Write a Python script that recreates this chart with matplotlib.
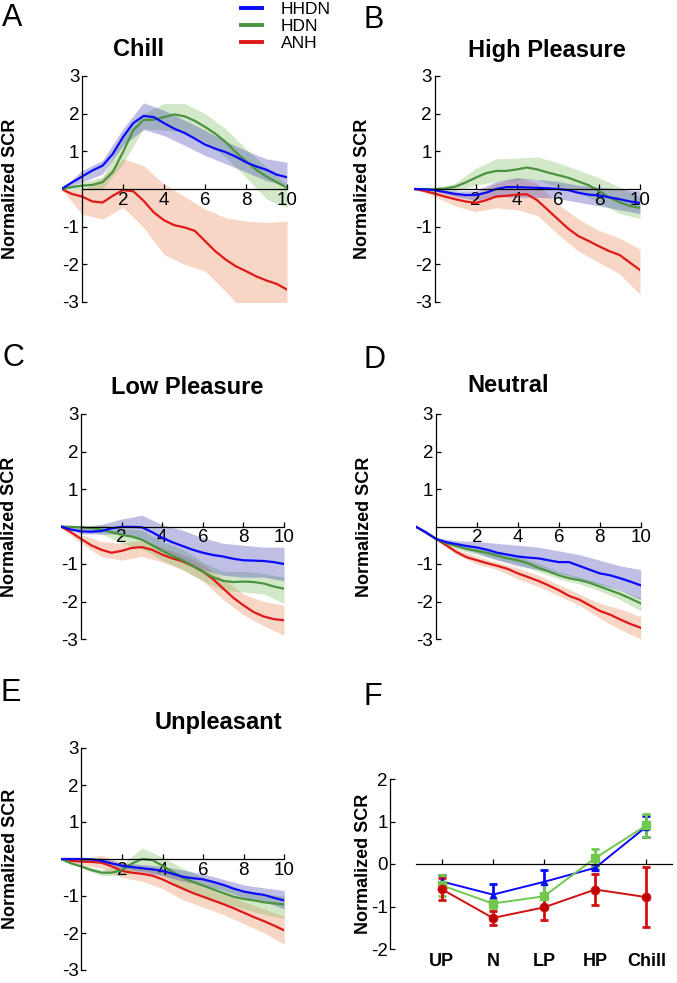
import matplotlib
matplotlib.use('Agg')
import matplotlib.pyplot as plt
import numpy as np

plt.rcParams['font.family'] = ['Liberation Sans', 'DejaVu Sans']
plt.rcParams['axes.unicode_minus'] = False

# time axis (s) for the mean traces and for the shaded error bands
time = [-1, -0.5, 0, 0.5, 1, 1.5, 2, 2.5, 3, 3.5, 4, 4.5, 5, 5.5, 6, 6.5, 7, 7.5, 8, 8.5, 9, 9.5, 10]
band_time = [-1, 0, 1, 2, 3, 4, 5, 6, 7, 8, 9, 10]

groups = ['HHDN', 'HDN', 'ANH']
line_colors = {'HHDN': '#0a0aff', 'HDN': '#4a9440', 'ANH': '#e01818'}
fill_colors = {'HHDN': '#3a3ab0', 'HDN': '#78b858', 'ANH': '#e8804e'}

# ---- A: Chill
chill_hhdn = [0, 0.17, 0.33, 0.49, 0.62, 0.93, 1.38, 1.75, 1.94, 1.91, 1.75, 1.6, 1.49, 1.34, 1.18, 1.07, 0.98, 0.86, 0.71, 0.6, 0.51, 0.38, 0.31]
chill_hdn = [0, 0.05, 0.09, 0.11, 0.18, 0.45, 0.98, 1.56, 1.83, 1.84, 1.91, 1.98, 1.93, 1.81, 1.65, 1.47, 1.25, 0.98, 0.74, 0.51, 0.33, 0.18, 0.03]
chill_anh = [0, -0.13, -0.2, -0.33, -0.36, -0.18, -0.03, -0.06, -0.31, -0.62, -0.83, -0.96, -1.02, -1.11, -1.38, -1.65, -1.87, -2.05, -2.18, -2.32, -2.43, -2.52, -2.67]
chill_hhdn_hi = [0, 0.49, 0.76, 1.6, 2.29, 2.09, 1.83, 1.56, 1.27, 1.02, 0.8, 0.71]
chill_hhdn_lo = [0, 0.18, 0.4, 1.16, 1.58, 1.42, 1.16, 0.89, 0.67, 0.45, 0.22, 0.09]
chill_hdn_hi = [0, 0.18, 0.31, 1.38, 2.0, 2.27, 2.27, 2.0, 1.6, 1.07, 0.58, 0.13]
chill_hdn_lo = [0, -0.04, 0.0, 0.67, 1.6, 1.56, 1.51, 1.25, 0.85, 0.31, -0.27, -0.49]
chill_anh_hi = [0, -0.04, 0.31, 0.8, 0.62, 0.13, -0.2, -0.53, -0.76, -0.85, -0.89, -0.85]
chill_anh_lo = [0, -0.67, -0.8, -0.49, -1.02, -1.74, -2.0, -2.18, -2.72, -3.3, -3.5, -3.5]

# ---- B: High Pleasure
hp_hhdn = [0, -0.01, -0.03, -0.08, -0.13, -0.16, -0.16, -0.1, 0.0, 0.05, 0.05, 0.04, 0.03, 0.02, 0.0, -0.03, -0.1, -0.15, -0.17, -0.22, -0.27, -0.33, -0.37]
hp_hdn = [0, 0, 0, 0.01, 0.06, 0.17, 0.3, 0.42, 0.48, 0.48, 0.52, 0.57, 0.52, 0.44, 0.37, 0.3, 0.2, 0.1, -0.05, -0.22, -0.35, -0.45, -0.5]
hp_anh = [0, -0.05, -0.12, -0.2, -0.27, -0.33, -0.37, -0.3, -0.2, -0.18, -0.15, -0.14, -0.3, -0.55, -0.8, -1.05, -1.25, -1.38, -1.52, -1.65, -1.75, -1.95, -2.15]
hp_hhdn_hi = [0, 0.0, -0.05, -0.05, 0.2, 0.3, 0.25, 0.2, 0.1, 0.05, 0.0, -0.05]
hp_hhdn_lo = [0, -0.06, -0.2, -0.3, -0.2, -0.22, -0.22, -0.25, -0.35, -0.45, -0.55, -0.65]
hp_hdn_hi = [0, 0.03, 0.15, 0.55, 0.8, 0.82, 0.85, 0.7, 0.5, 0.3, 0.05, -0.2]
hp_hdn_lo = [0, -0.03, -0.05, 0.1, 0.2, 0.25, 0.25, 0.05, -0.1, -0.35, -0.65, -0.78]
hp_anh_hi = [0, -0.02, -0.1, -0.15, 0.15, 0.3, 0.15, -0.4, -0.8, -1.1, -1.3, -1.6]
hp_anh_lo = [0, -0.2, -0.45, -0.6, -0.5, -0.55, -0.7, -1.2, -1.65, -1.95, -2.25, -2.8]

# ---- C: Low Pleasure
lp_hhdn = [0, -0.08, -0.13, -0.14, -0.12, -0.05, -0.01, -0.01, -0.02, -0.15, -0.3, -0.42, -0.52, -0.62, -0.7, -0.76, -0.8, -0.86, -0.9, -0.91, -0.92, -0.95, -1.0]
lp_hdn = [0, -0.01, -0.02, -0.04, -0.08, -0.15, -0.22, -0.27, -0.35, -0.5, -0.65, -0.78, -0.9, -1.05, -1.2, -1.35, -1.45, -1.48, -1.47, -1.48, -1.52, -1.6, -1.66]
lp_anh = [0, -0.15, -0.33, -0.5, -0.62, -0.7, -0.65, -0.57, -0.55, -0.62, -0.75, -0.85, -0.93, -1.05, -1.2, -1.4, -1.65, -1.9, -2.1, -2.28, -2.4, -2.47, -2.5]
lp_hhdn_hi = [0, -0.02, 0.05, 0.2, 0.3, 0.05, -0.1, -0.3, -0.45, -0.5, -0.55, -0.55]
lp_hhdn_lo = [0, -0.2, -0.2, -0.2, -0.35, -0.65, -0.95, -1.15, -1.3, -1.35, -1.35, -1.45]
lp_hdn_hi = [0, 0.03, 0.05, -0.05, -0.1, -0.4, -0.6, -0.95, -1.2, -1.2, -1.25, -1.35]
lp_hdn_lo = [0, -0.08, -0.2, -0.45, -0.6, -0.9, -1.15, -1.45, -1.7, -1.75, -1.8, -2.05]
lp_anh_hi = [0, -0.22, -0.4, -0.45, -0.35, -0.55, -0.75, -1.0, -1.4, -1.8, -2.0, -2.1]
lp_anh_lo = [0, -0.45, -0.8, -0.9, -0.8, -0.95, -1.15, -1.45, -1.95, -2.35, -2.65, -2.9]

# ---- D: Neutral
neu_hhdn = [0, -0.15, -0.33, -0.42, -0.47, -0.52, -0.56, -0.62, -0.7, -0.75, -0.8, -0.83, -0.85, -0.9, -0.95, -0.95, -1.05, -1.15, -1.25, -1.3, -1.38, -1.47, -1.57]
neu_hdn = [0, -0.16, -0.33, -0.45, -0.52, -0.6, -0.65, -0.7, -0.78, -0.85, -0.9, -0.98, -1.1, -1.2, -1.3, -1.38, -1.43, -1.5, -1.6, -1.7, -1.8, -1.92, -2.05]
neu_anh = [0, -0.16, -0.33, -0.5, -0.68, -0.82, -0.9, -0.98, -1.05, -1.13, -1.25, -1.35, -1.45, -1.57, -1.7, -1.85, -1.95, -2.1, -2.25, -2.35, -2.48, -2.6, -2.7]
neu_hhdn_hi = [0, -0.3, -0.38, -0.4, -0.45, -0.5, -0.55, -0.65, -0.75, -0.9, -1.05, -1.15]
neu_hhdn_lo = [0, -0.36, -0.55, -0.7, -0.9, -1.05, -1.15, -1.25, -1.4, -1.55, -1.7, -1.95]
neu_hdn_hi = [0, -0.31, -0.45, -0.58, -0.7, -0.8, -0.98, -1.2, -1.35, -1.5, -1.7, -1.9]
neu_hdn_lo = [0, -0.35, -0.6, -0.75, -0.88, -1.0, -1.2, -1.4, -1.53, -1.72, -1.95, -2.25]
neu_anh_hi = [0, -0.31, -0.6, -0.8, -0.95, -1.1, -1.3, -1.55, -1.8, -2.05, -2.2, -2.4]
neu_anh_lo = [0, -0.35, -0.75, -1.0, -1.15, -1.4, -1.6, -1.85, -2.1, -2.45, -2.75, -3.0]

# ---- E: Unpleasant
unp_hhdn = [0, 0, 0, -0.01, -0.05, -0.12, -0.18, -0.22, -0.25, -0.28, -0.32, -0.4, -0.48, -0.52, -0.55, -0.62, -0.7, -0.8, -0.88, -0.93, -0.97, -1.05, -1.12]
unp_hdn = [0, -0.12, -0.2, -0.3, -0.37, -0.37, -0.3, -0.12, 0.0, -0.03, -0.18, -0.35, -0.5, -0.62, -0.72, -0.82, -0.92, -1.02, -1.08, -1.12, -1.17, -1.2, -1.23]
unp_anh = [0, -0.05, -0.07, -0.08, -0.1, -0.2, -0.32, -0.37, -0.4, -0.45, -0.55, -0.68, -0.8, -0.92, -1.02, -1.12, -1.22, -1.33, -1.45, -1.57, -1.68, -1.8, -1.93]
unp_hhdn_hi = [0, 0.05, 0.03, -0.1, -0.15, -0.2, -0.3, -0.4, -0.55, -0.7, -0.78, -0.85]
unp_hhdn_lo = [0, -0.05, -0.1, -0.25, -0.35, -0.45, -0.6, -0.7, -0.85, -1.05, -1.15, -1.35]
unp_hdn_hi = [0, -0.15, -0.3, -0.15, 0.3, 0.05, -0.25, -0.5, -0.7, -0.85, -0.95, -1.0]
unp_hdn_lo = [0, -0.25, -0.45, -0.45, -0.3, -0.45, -0.8, -1.0, -1.2, -1.35, -1.5, -1.6]
unp_anh_hi = [0, 0.0, 0.1, -0.1, -0.2, -0.3, -0.5, -0.75, -0.95, -1.15, -1.35, -1.55]
unp_anh_lo = [0, -0.15, -0.25, -0.5, -0.6, -0.8, -1.1, -1.3, -1.5, -1.75, -2.0, -2.3]

# ---- F: mean response per category
categories = ['UP', 'N', 'LP', 'HP', 'Chill']
mean_hhdn = [-0.41, -0.72, -0.42, -0.09, 0.88]
sem_hhdn = [0.15, 0.24, 0.29, 0.06, 0.25]
mean_hdn = [-0.5, -0.93, -0.76, 0.14, 0.91]
sem_hdn = [0.25, 0.1, 0.3, 0.21, 0.27]
mean_anh = [-0.59, -1.27, -1.02, -0.6, -0.78]
sem_anh = [0.26, 0.16, 0.3, 0.36, 0.7]

panels = [
    ('A', 'Chill', [61.5, 76, 287, 302], (139, 50),
     {'HHDN': (chill_hhdn, chill_hhdn_lo, chill_hhdn_hi),
      'HDN': (chill_hdn, chill_hdn_lo, chill_hdn_hi),
      'ANH': (chill_anh, chill_anh_lo, chill_anh_hi)}),
    ('B', 'High Pleasure', [414, 76, 640, 302], (547, 51),
     {'HHDN': (hp_hhdn, hp_hhdn_lo, hp_hhdn_hi),
      'HDN': (hp_hdn, hp_hdn_lo, hp_hdn_hi),
      'ANH': (hp_anh, hp_anh_lo, hp_anh_hi)}),
    ('C', 'Low Pleasure', [60.7, 414, 284, 639], (187, 387),
     {'HHDN': (lp_hhdn, lp_hhdn_lo, lp_hhdn_hi),
      'HDN': (lp_hdn, lp_hdn_lo, lp_hdn_hi),
      'ANH': (lp_anh, lp_anh_lo, lp_anh_hi)}),
    ('D', 'Neutral', [415.5, 414, 640.7, 639], (508, 385),
     {'HHDN': (neu_hhdn, neu_hhdn_lo, neu_hhdn_hi),
      'HDN': (neu_hdn, neu_hdn_lo, neu_hdn_hi),
      'ANH': (neu_anh, neu_anh_lo, neu_anh_hi)}),
    ('E', 'Unpleasant', [61, 748, 284.3, 970], (218, 723),
     {'HHDN': (unp_hhdn, unp_hhdn_lo, unp_hhdn_hi),
      'HDN': (unp_hdn, unp_hdn_lo, unp_hdn_hi),
      'ANH': (unp_anh, unp_anh_lo, unp_anh_hi)}),
]
letter_pos = {'A': (12, 18), 'B': (374, 20), 'C': (13, 358), 'D': (374, 360),
              'E': (11, 693), 'F': (373, 697)}

W, H = 677, 983
fig = plt.figure(figsize=(W / 100, H / 100), dpi=100)


def px_axes(box):
    x0, y0, x1, y1 = box
    return fig.add_axes([x0 / W, 1 - y1 / H, (x1 - x0) / W, (y1 - y0) / H])


def style_axes(ax):
    for side in ('top', 'right'):
        ax.spines[side].set_visible(False)
    ax.spines['left'].set_position(('data', 0))
    ax.spines['bottom'].set_position(('data', 0))
    ax.spines['left'].set_linewidth(0.9)
    ax.spines['bottom'].set_linewidth(0.9)
    ax.tick_params(direction='in', length=3.5, width=0.9, labelsize=13.5, pad=2)


handles = {}
for letter, title, box, tpos, series in panels:
    ax = px_axes(box)
    for g in ['ANH', 'HDN', 'HHDN']:
        mean, lo, hi = series[g]
        ax.fill_between(band_time, lo, hi, color=fill_colors[g], alpha=0.32, lw=0)
    for g in ['ANH', 'HDN', 'HHDN']:
        mean, lo, hi = series[g]
        handles[g], = ax.plot(time, mean, color=line_colors[g], lw=1.6)
    ax.set_xlim(-1, 10)
    ax.set_ylim(-3, 3)
    style_axes(ax)
    ax.spines['bottom'].set_bounds(0, 10)
    ax.set_xticks([2, 4, 6, 8, 10])
    ax.set_yticks([-3, -2, -1, 1, 2, 3])
    ax.set_ylabel('Normalized SCR', fontsize=13, fontweight='bold')
    ax.yaxis.set_label_coords(-0.19, 0.5)
    fig.text(tpos[0] / W, 1 - tpos[1] / H, title, fontsize=17, fontweight='bold',
             ha='center', va='center')

# ---- panel F
axf = px_axes([416, 779, 672, 949])
x_cat = np.arange(1, len(categories) + 1)
axf.errorbar(x_cat, mean_hhdn, yerr=sem_hhdn, color=line_colors['HHDN'], lw=1.4,
             marker='^', ms=4, capsize=3, capthick=2, elinewidth=2)
axf.errorbar(x_cat, mean_hdn, yerr=sem_hdn, color='#70c850', lw=1.4,
             marker='s', ms=5.5, capsize=3, capthick=2, elinewidth=2)
axf.errorbar(x_cat, mean_anh, yerr=sem_anh, color='#d01010', lw=1.4,
             marker='o', ms=6, mfc='#c00000', capsize=3, capthick=2, elinewidth=2)
axf.set_xlim(0.5, 5.5)
axf.set_ylim(-2, 2)
style_axes(axf)
axf.set_yticks([-2, -1, 0, 1, 2])
axf.set_xticks(x_cat, categories)
axf.tick_params(axis='x', pad=64, labelsize=13)
for lab in axf.get_xticklabels():
    lab.set_fontweight('bold')
axf.set_ylabel('Normalized SCR', fontsize=13, fontweight='bold')
axf.yaxis.set_label_coords(-0.17, 0.5)

for letter, (lx, ly) in letter_pos.items():
    fig.text(lx / W, 1 - ly / H, letter, fontsize=22, ha='center', va='center')

fig.legend([handles[g] for g in groups], groups, loc='upper left',
           bbox_to_anchor=(241 / W, 1 - 2 / H), frameon=False, fontsize=12.5,
           handlelength=1.2, handletextpad=1.1, labelspacing=0.1, borderpad=0,
           borderaxespad=0)
for line in fig.legends[0].get_lines():
    line.set_linewidth(2.8)

fig.savefig('out.png', dpi=100)
